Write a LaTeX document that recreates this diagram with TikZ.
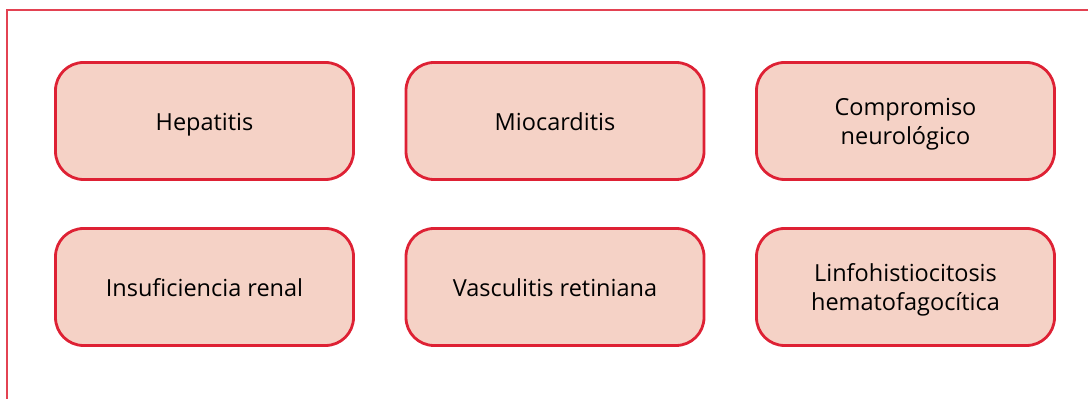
\documentclass[tikz,border=0pt]{standalone}
\usepackage{fontspec}
\setmainfont{Open Sans}
\usepackage{tikz}
\usetikzlibrary{positioning}
\definecolor{rose}{RGB}{245,210,198}
\definecolor{crimson}{RGB}{222,33,52}

\begin{document}
\begin{tikzpicture}[x=1pt,y=1pt,
    box/.style={draw=crimson,fill=rose,line width=2.8pt,rounded corners=28pt,align=center,
      font=\fontsize{23.5}{29}\selectfont,minimum width=298pt,minimum height=117pt,
      inner sep=0pt,outer sep=0pt,text height=22pt,text depth=3pt},
    twobox/.style={box,text height=51pt}]
    \useasboundingbox (0,0) rectangle (1088,399);
    \draw[crimson!85,line width=1.2pt] (7,0) -- (7,389) -- (1088,389);
    \node[box] (hep) at (204.5,278) {Hepatitis};
    \node[box,right=52.5pt of hep] (mio) {Miocarditis};
    \node[twobox,right=52.5pt of mio] (neu) {Compromiso\\neurológico};
    \node[box,below=49pt of hep] (ren) {Insuficiencia renal};
    \node[box,below=49pt of mio] (vas) {Vasculitis retiniana};
    \node[twobox,below=49pt of neu] (lin) {Linfohistiocitosis\\hematofagocítica};
  \end{tikzpicture}
\end{document}
